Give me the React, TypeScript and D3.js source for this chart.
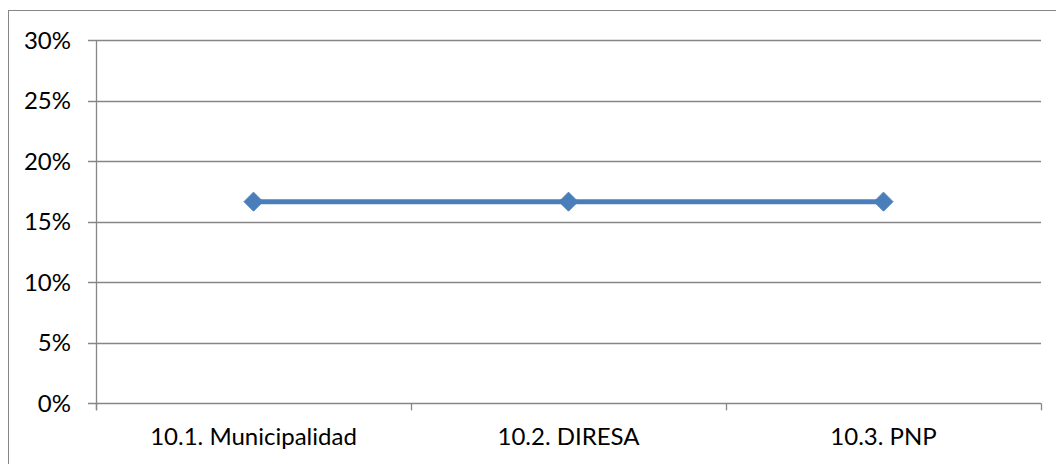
import React from "react";
import * as d3 from "d3";

const categories = ["10.1. Municipalidad", "10.2. DIRESA", "10.3. PNP"];
const values = [1 / 6, 1 / 6, 1 / 6];
const yTicks = [0, 0.05, 0.1, 0.15, 0.2, 0.25, 0.3];

const W = 1056;
const H = 464;
const left = 96;
const right = 1041;
const top = 40.3;
const bottom = 403.3;

export default function App() {
  const x = d3.scaleBand<string>().domain(categories).range([left, right]);
  const y = d3.scaleLinear().domain([0, 0.3]).range([bottom, top]);
  const fmt = d3.format(".0%");
  const line = d3
    .line<number>()
    .x((_, i) => (x(categories[i]) as number) + x.bandwidth() / 2)
    .y((d) => y(d));
  const grid = "#868686";
  const font = "Lato, 'Open Sans', sans-serif";
  const fontSize = 24;
  const boundaries = [...categories.map((c) => x(c) as number), right];

  return (
    <svg
      width={W}
      height={H}
      style={{ position: "absolute", left: 0, top: 0, background: "#fff" }}
    >
      <rect x={8.5} y={10.5} width={1100} height={500} fill="none" stroke={grid} strokeWidth={1} />
      {yTicks.map((t) => (
        <g key={t}>
          <line x1={88} x2={right} y1={Math.round(y(t)) + 0.5} y2={Math.round(y(t)) + 0.5} stroke={grid} strokeWidth={1.3} />
          <text
            x={71}
            y={y(t)}
            dy="0.36em"
            textAnchor="end"
            fontFamily={font}
            fontSize={fontSize}
            fontWeight={400}
            fill="#000"
          >
            {fmt(t)}
          </text>
        </g>
      ))}
      <line x1={left + 0.5} x2={left + 0.5} y1={top} y2={bottom + 7} stroke={grid} strokeWidth={1.3} />
      {boundaries.map((b, i) => (
        <line key={i} x1={b + 0.5} x2={b + 0.5} y1={bottom} y2={bottom + 7} stroke={grid} strokeWidth={1.3} />
      ))}
      {categories.map((c) => (
        <text
          key={c}
          x={(x(c) as number) + x.bandwidth() / 2}
          y={445}
          textAnchor="middle"
          fontFamily={font}
          fontSize={fontSize}
          fontWeight={400}
          fill="#000"
        >
          {c}
        </text>
      ))}
      <path d={line(values) ?? ""} fill="none" stroke="#4A7EBB" strokeWidth={5} />
      {values.map((v, i) => {
        const cx = (x(categories[i]) as number) + x.bandwidth() / 2;
        const cy = y(v);
        const r = 9.5;
        return (
          <path
            key={i}
            d={`M${cx},${cy - r}L${cx + r},${cy}L${cx},${cy + r}L${cx - r},${cy}Z`}
            fill="#4A7EBB"
            stroke="#4A7EBB"
            strokeWidth={1}
          />
        );
      })}
    </svg>
  );
}
